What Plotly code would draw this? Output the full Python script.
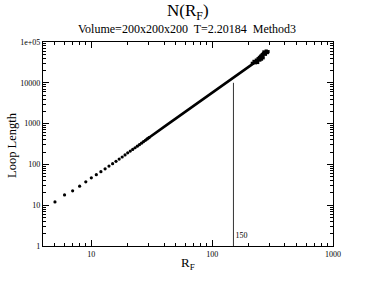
import plotly.graph_objects as go

# --- data ---
r_sparse = [5, 6, 7, 8, 9, 10, 11, 12, 13, 14, 15, 16, 17, 18, 19, 20,
            21, 22, 23, 24, 25, 26, 27, 28, 29, 30]
n_sparse = [12, 17.9, 22.5, 29.3, 37.4, 46.9, 56, 66.5, 78, 91, 104, 119, 135, 152, 171, 192,
            212, 233, 256, 280, 305, 332, 360, 390, 420, 452]

r_dense = [28, 30, 32, 34, 36, 38, 40, 43, 46, 50, 55, 60, 65, 70, 75, 80, 85, 90, 95,
           100, 110, 120, 130, 140, 150, 160, 170, 180, 190, 200, 210, 220, 230, 240]
n_dense = [390, 455, 521, 592, 668, 748, 833, 970, 1117, 1331, 1626, 1952, 2310, 2697, 3119,
           3572, 4055, 4574, 5123, 5707, 6970, 8370, 9900, 11570, 13360, 15300, 17400, 19600,
           21960, 24460, 27100, 29900, 32800, 35900]

r_tail = [215, 222, 228, 232, 236, 238, 240, 244, 246, 248, 250, 252, 255, 256, 258, 260,
          262, 264, 265, 268, 272, 276, 280, 286, 290]
n_tail = [30000, 33500, 31000, 36000, 34000, 31500, 39000, 37500, 42000, 36000, 40000, 45000,
          43000, 38000, 47000, 49000, 44000, 41000, 52000, 57000, 54000, 50000, 60000, 55000, 58000]

threshold_r = [150, 150]
threshold_n = [1, 10000]
threshold_label = "150"

x_tickvals = [10, 100, 1000]
x_ticktext = ["10", "100", "1000"]
x_minor = [5, 6, 7, 8, 9, 20, 30, 40, 50, 60, 70, 80, 90, 200, 300, 400, 500, 600, 700, 800, 900]
y_tickvals = [1, 10, 100, 1000, 10000, 100000]
y_ticktext = ["1", "10", "100", "1000", "10000", "1e+05"]
y_minor = [m * 10 ** e for e in range(5) for m in range(2, 10)]

FONT = "Liberation Serif, Times New Roman, serif"
W, H = 374, 289
ML, MR, MT, MB = 43, 41, 42, 43
PW, PH = W - ML - MR, H - MT - MB


def py(px_from_top):
    return 1 - (px_from_top - MT) / PH


def px(px_from_left):
    return (px_from_left - ML) / PW


fig = go.Figure()
fig.add_trace(go.Scatter(x=r_dense, y=n_dense, mode="lines",
                         line=dict(color="black", width=2.6), hoverinfo="skip"))
fig.add_trace(go.Scatter(x=r_sparse, y=n_sparse, mode="markers",
                         marker=dict(color="black", size=3.2)))
fig.add_trace(go.Scatter(x=r_tail, y=n_tail, mode="markers",
                         marker=dict(color="black", size=3.2, symbol="square")))
fig.add_trace(go.Scatter(x=threshold_r, y=threshold_n, mode="lines",
                         line=dict(color="#333333", width=1)))
fig.add_trace(go.Scatter(x=[threshold_r[0] * 1.04], y=[1.75], mode="text",
                         text=[threshold_label], textposition="middle right",
                         textfont=dict(family=FONT, size=8, color="black")))

axis_common = dict(
    type="log", showgrid=False, zeroline=False, showline=True, linecolor="black",
    linewidth=1.3, mirror="allticks", ticks="inside", ticklen=6, tickcolor="black",
    tickwidth=1, automargin=False, tickmode="array",
    tickfont=dict(family=FONT, size=8, color="black"),
)

fig.update_layout(
    width=W, height=H,
    margin=dict(l=ML, r=MR, t=MT, b=MB, autoexpand=False),
    paper_bgcolor="white", plot_bgcolor="white",
    showlegend=False,
    xaxis=dict(axis_common, range=[0.6, 3], tickvals=x_tickvals, ticktext=x_ticktext,
               minor=dict(tickmode="array", tickvals=x_minor, ticks="inside", ticklen=3,
                          tickcolor="black", showgrid=False)),
    yaxis=dict(axis_common, range=[0, 5], tickvals=y_tickvals, ticktext=y_ticktext,
               minor=dict(tickmode="array", tickvals=y_minor, ticks="inside", ticklen=3,
                          tickcolor="black", showgrid=False)),
)
fig.add_annotation(text="N(R<sub>F</sub>)", xref="paper", yref="paper", x=px(188),
                   y=py(12), yanchor="middle", showarrow=False,
                   font=dict(family=FONT, size=17, color="black"))
fig.add_annotation(text="Volume=200x200x200  T=2.20184  Method3", xref="paper", yref="paper",
                   x=px(187), y=py(29), yanchor="middle", showarrow=False,
                   font=dict(family=FONT, size=12, color="black"))
fig.add_annotation(text="R<sub>F</sub>", xref="paper", yref="paper", x=px(188),
                   y=py(263), yanchor="middle", showarrow=False,
                   font=dict(family=FONT, size=13, color="black"))
fig.add_annotation(text="Loop Length", xref="paper", yref="paper", x=px(12),
                   y=py(145), yanchor="middle", xanchor="center", textangle=-90,
                   showarrow=False, font=dict(family=FONT, size=12.5, color="black"))

fig.write_html("out.html", config={"displayModeBar": False},
               post_script="document.body.style.margin='0';document.body.style.padding='0';")
